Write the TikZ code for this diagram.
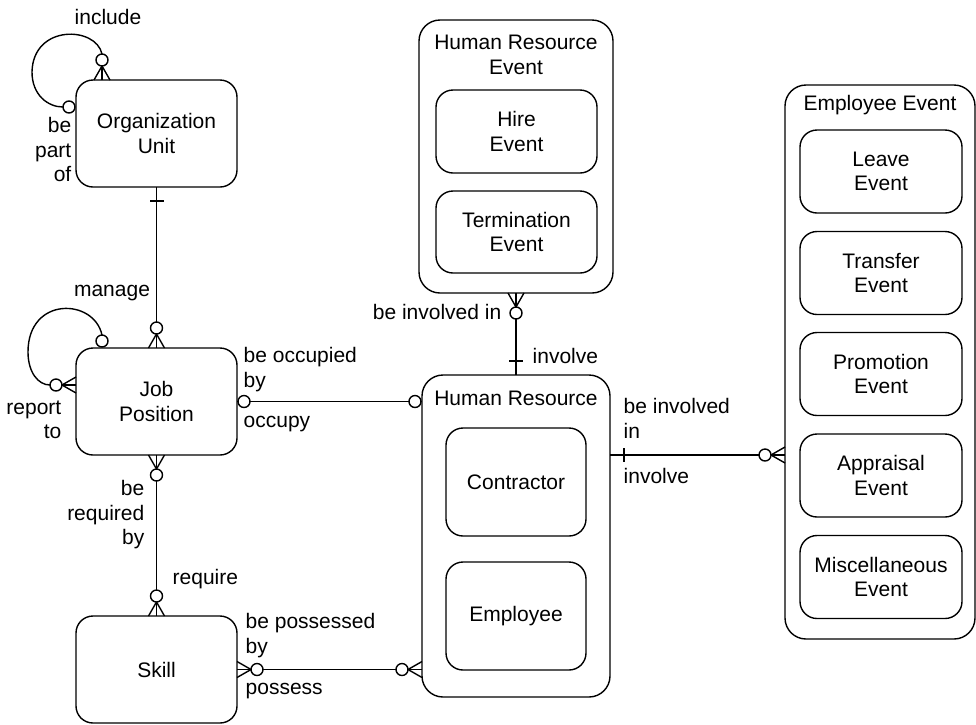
\documentclass[tikz,border=0pt]{standalone}
\usepackage{fontspec}
\setmainfont{Liberation Sans}
\usetikzlibrary{calc}
\begin{document}
\begin{tikzpicture}[x=1pt,y=-1pt,
  line width=1.4pt,
  every node/.style={font=\fontsize{21}{24.5}\selectfont, inner sep=0pt},
  entity/.style={draw, rounded corners=17pt, outer sep=0pt, align=center},
  group/.style={draw, rounded corners=21pt, outer sep=0pt},
  title/.style={align=center},
  lbl/.style={align=left},
  lblr/.style={align=right},
  % crow's foot, circle and bar ends; local x points away from the entity
  many/.pic={\draw (0,-8) -- (14,0) -- (0,8);},
  zero/.pic={\draw[fill=white] (20,0) circle[radius=6pt];},
  zeronear/.pic={\draw[fill=white] (7,0) circle[radius=6pt];},
  one/.pic={\draw (14,-7) -- (14,7);}
]
\useasboundingbox (0,0) rectangle (976,724);

% ---------- entities ----------
\node[entity, minimum width=161pt, minimum height=107pt] (ou) at (156.5,133.5) {Organization\\Unit};
\node[entity, minimum width=161pt, minimum height=107pt] (jp) at (156.5,401.5) {Job\\Position};
\node[entity, minimum width=161pt, minimum height=107pt] (sk) at (156.5,669.5) {Skill};

% Human Resource Event with its subtypes
\node[group, minimum width=194pt, minimum height=273pt] (hre) at (516,156.5) {};
\node[title] (hretitle) at (516,55) {Human Resource\\Event};
\node[entity, minimum width=161pt, minimum height=83pt] (hire) at (516.5,131.5) {Hire\\Event};
\node[entity, minimum width=161pt, minimum height=82pt] (term) at (516.5,232) {Termination\\Event};

% Human Resource with its subtypes
\node[group, minimum width=188pt, minimum height=322pt] (hr) at (516,536) {};
\node[title] (hrtitle) at (516,398) {Human Resource};
\node[entity, minimum width=140pt, minimum height=108pt] (con) at (516,482) {Contractor};
\node[entity, minimum width=140pt, minimum height=108pt] (emp) at (516,616) {Employee};

% Employee Event with its subtypes
\node[group, minimum width=190pt, minimum height=554pt] (ee) at (880,362) {};
\node[title] (eetitle) at (880,105) {Employee Event};
\node[entity, minimum width=162pt, minimum height=83pt] (leave) at (881,171.5) {Leave\\Event};
\node[entity, minimum width=162pt, minimum height=83pt] (transfer) at (881,273) {Transfer\\Event};
\node[entity, minimum width=162pt, minimum height=83pt] (promo) at (881,374) {Promotion\\Event};
\node[entity, minimum width=162pt, minimum height=83pt] (apprais) at (881,475.5) {Appraisal\\Event};
\node[entity, minimum width=162pt, minimum height=83pt] (misc) at (881,577) {Miscellaneous\\Event};

% ---------- relationships ----------
% Organization Unit -- Job Position
\draw (ou.south) -- (jp.north);
\pic[rotate=-90] at (ou.south) {one};
\pic[rotate=90] at (jp.north) {many};
\pic[rotate=90] at (jp.north) {zero};

% Organization Unit recursive
\coordinate (ouA) at ($(ou.north west)+(26,0)$);
\coordinate (ouB) at ($(ou.north west)+(0,27)$);
\coordinate (ouAtop) at ($(ouA)+(0,-26)$);
\coordinate (ouBend) at ($(ouB)+(-13,0)$);
\draw (ouAtop) .. controls (96,26) and (33,24) .. (32,72) .. controls (32,95) and (48,107) .. (ouBend);
\draw (ouA) -- (ouAtop);
\pic[rotate=90] at (ouA) {many};
\pic[rotate=90] at (ouA) {zero};
\pic[rotate=180] at (ouB) {zeronear};

% Job Position recursive
\coordinate (jpA) at ($(jp.north west)+(26,0)$);
\coordinate (jpB) at ($(jp.north west)+(0,37)$);
\coordinate (jpAtop) at ($(jpA)+(0,-13)$);
\coordinate (jpBend) at ($(jpB)+(-26,0)$);
\draw (jpAtop) .. controls (94,298) and (28,296) .. (28,352) .. controls (28,372) and (38,385) .. (jpBend);
\draw (jpB) -- (jpBend);
\pic[rotate=90] at (jpA) {zeronear};
\pic[rotate=180] at (jpB) {many};
\pic[rotate=180] at (jpB) {zero};

% Job Position -- Human Resource
\draw (jp.east) -- (jp.east -| hr.west);
\pic at (jp.east) {zeronear};
\pic[rotate=180] at (jp.east -| hr.west) {zeronear};

% Job Position -- Skill
\draw (jp.south) -- (sk.north);
\pic[rotate=-90] at (jp.south) {many};
\pic[rotate=-90] at (jp.south) {zero};
\pic[rotate=90] at (sk.north) {many};
\pic[rotate=90] at (sk.north) {zero};

% Skill -- Human Resource
\draw (sk.east) -- (sk.east -| hr.west);
\pic at (sk.east) {many};
\pic at (sk.east) {zero};
\pic[rotate=180] at (sk.east -| hr.west) {many};
\pic[rotate=180] at (sk.east -| hr.west) {zero};

% Human Resource Event -- Human Resource
\draw (hre.south) -- (hr.north);
\pic[rotate=-90] at (hre.south) {many};
\pic[rotate=-90] at (hre.south) {zero};
\pic[rotate=90] at (hr.north) {one};

% Human Resource -- Employee Event
\coordinate (hrR) at ($(hr.north east)+(0,80)$);
\draw (hrR) -- (hrR -| ee.west);
\pic at (hrR) {one};
\pic[rotate=180] at (hrR -| ee.west) {many};
\pic[rotate=180] at (hrR -| ee.west) {zero};

% ---------- relationship names ----------
\node (l1) at (108,17) {include};
\node[lblr, anchor=north east] (l2) at (72,117) {be\\part\\of};
\node (l3) at (112,293) {manage};
\node[lblr, anchor=north east] (l4) at (62,400) {report\\to};
\node[lbl, anchor=north west] (l5) at (243,347) {be occupied\\by};
\node[anchor=west] (l6) at (243,424) {occupy};
\node[anchor=east] (l7) at (502,312) {be involved in};
\node[anchor=west] (l8) at (532,356) {involve};
\node[lbl, anchor=north west] (l9) at (623,398) {be involved\\in};
\node[anchor=west] (l10) at (623,476) {involve};
\node[lblr, anchor=north east] (l11) at (145,480) {be\\required\\by};
\node[anchor=west] (l12) at (172,579) {require};
\node[lbl, anchor=north west] (l13) at (245,613) {be possessed\\by};
\node[anchor=west] (l14) at (245,691) {possess};
\end{tikzpicture}
\end{document}
